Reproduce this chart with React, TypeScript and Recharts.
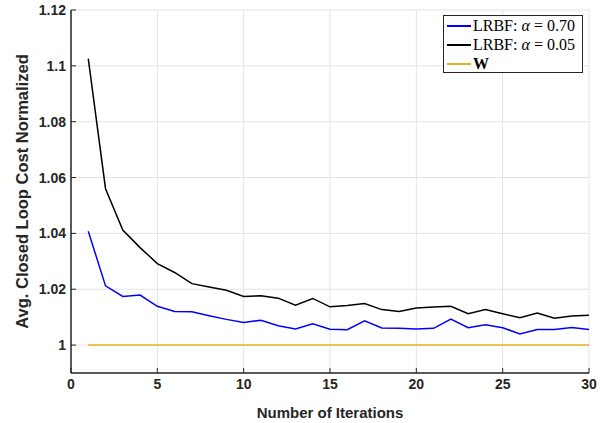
import { LineChart, Line, XAxis, YAxis, CartesianGrid, Label } from "recharts";

// iteration index
const iterations = [
    1, 2, 3, 4, 5, 6, 7, 8, 9, 10, 11, 12, 13, 14, 15,
    16, 17, 18, 19, 20, 21, 22, 23, 24, 25, 26, 27, 28, 29, 30,
];

// LRBF, alpha = 0.70 (blue)
const lrbfAlpha070 = [
    1.0408, 1.0212, 1.0174, 1.0179, 1.0139, 1.012, 1.0119, 1.0105, 1.0092, 1.0081,
    1.0089, 1.0069, 1.0058, 1.0076, 1.0057, 1.0055, 1.0087, 1.0061, 1.006, 1.0058,
    1.006, 1.0093, 1.0062, 1.0073, 1.0062, 1.004, 1.0056, 1.0056, 1.0063, 1.0056,
];

// LRBF, alpha = 0.05 (black)
const lrbfAlpha005 = [
    1.1026, 1.056, 1.0412, 1.0349, 1.0292, 1.026, 1.022, 1.0208, 1.0196, 1.0174,
    1.0177, 1.0168, 1.0143, 1.0167, 1.0137, 1.0142, 1.0149, 1.0127, 1.012, 1.0133,
    1.0136, 1.0139, 1.0112, 1.0127, 1.0112, 1.0098, 1.0115, 1.0096, 1.0104, 1.0107,
];

// W reference
const baselineW = [
    1, 1, 1, 1, 1, 1, 1, 1, 1, 1, 1, 1, 1, 1, 1,
    1, 1, 1, 1, 1, 1, 1, 1, 1, 1, 1, 1, 1, 1, 1,
];

const xTicks = [0, 5, 10, 15, 20, 25, 30];
const yTicks = [1, 1.02, 1.04, 1.06, 1.08, 1.1, 1.12];

const AXIS = "#262626";
const SANS = "'Liberation Sans', Arial, Helvetica, sans-serif";
const SERIF = "'Liberation Serif', 'Times New Roman', serif";

const tickStyle = { fill: AXIS, fontSize: 14, fontWeight: 700, fontFamily: SANS };

function Eq() {
    return <span style={{ margin: "0 4px" }}>=</span>;
}

function LegendBox() {
    const rows = [
        { color: "#0000ff", label: <>LRBF: <i>α</i><Eq />0.70</> },
        { color: "#000000", label: <>LRBF: <i>α</i><Eq />0.05</> },
        { color: "#EDB120", label: <b>W</b> },
    ];
    return (
        <div
            style={{
                position: "absolute",
                left: 443,
                top: 15,
                width: 140,
                height: 58,
                background: "#fff",
                border: "1px solid #262626",
                fontFamily: SERIF,
                fontSize: 16,
                color: "#000",
                padding: "0 0 0 3px",
                boxSizing: "border-box",
            }}
        >
            {rows.map((r, i) => (
                <div key={i} style={{ display: "flex", alignItems: "center", height: 19 }}>
                    <div style={{ width: 24, height: 2, background: r.color, marginRight: 2, flexShrink: 0 }} />
                    <span style={{ whiteSpace: "nowrap" }}>{r.label}</span>
                </div>
            ))}
        </div>
    );
}

export default function App() {
    const data = iterations.map((x, i) => ({
        x,
        a: lrbfAlpha070[i],
        b: lrbfAlpha005[i],
        w: baselineW[i],
    }));

    return (
        <div style={{ position: "absolute", left: 0, top: 0, width: 606, height: 423, background: "#fff" }}>
            <LineChart width={606} height={423} data={data} margin={{ top: 10, right: 17, bottom: 0, left: 0 }}>
                <CartesianGrid stroke="#e3e3e3" strokeWidth={1} />
                <XAxis
                    dataKey="x"
                    type="number"
                    domain={[0, 30]}
                    ticks={xTicks}
                    height={50}
                    tickSize={-5}
                    tickMargin={11}
                    tick={tickStyle}
                    axisLine={{ stroke: AXIS, strokeWidth: 1.5 }}
                    tickLine={{ stroke: AXIS }}
                    allowDataOverflow
                >
                    <Label
                        value="Number of Iterations"
                        position="insideBottom"
                        offset={5}
                        style={{ fill: AXIS, fontSize: 15, fontWeight: 700, fontFamily: SANS }}
                    />
                </XAxis>
                <XAxis
                    xAxisId="top"
                    orientation="top"
                    dataKey="x"
                    type="number"
                    domain={[0, 30]}
                    ticks={xTicks}
                    height={0}
                    tickSize={-5}
                    tickFormatter={() => ""}
                    axisLine={{ stroke: AXIS, strokeWidth: 1.5 }}
                    tickLine={{ stroke: AXIS }}
                />
                <YAxis
                    type="number"
                    domain={[0.99, 1.12]}
                    ticks={yTicks}
                    width={71}
                    tickSize={-5}
                    tickMargin={10}
                    tick={tickStyle}
                    axisLine={{ stroke: AXIS, strokeWidth: 1.5 }}
                    tickLine={{ stroke: AXIS }}
                    allowDataOverflow
                >
                    <Label
                        value="Avg. Closed Loop Cost Normalized"
                        angle={-90}
                        position="insideLeft"
                        offset={22}
                        style={{ textAnchor: "middle", fill: AXIS, fontSize: 16.5, fontWeight: 700, fontFamily: SANS }}
                    />
                </YAxis>
                <YAxis
                    yAxisId="right"
                    orientation="right"
                    type="number"
                    domain={[0.99, 1.12]}
                    ticks={yTicks}
                    width={0}
                    tickSize={-5}
                    tickFormatter={() => ""}
                    axisLine={{ stroke: AXIS, strokeWidth: 1.5 }}
                    tickLine={{ stroke: AXIS }}
                />
                <Line type="linear" dataKey="a" stroke="#0000ff" strokeWidth={1.5} dot={false} isAnimationActive={false} />
                <Line type="linear" dataKey="b" stroke="#000000" strokeWidth={1.5} dot={false} isAnimationActive={false} />
                <Line type="linear" dataKey="w" stroke="#EDB120" strokeWidth={1.5} dot={false} isAnimationActive={false} />
            </LineChart>
            <LegendBox />
        </div>
    );
}
